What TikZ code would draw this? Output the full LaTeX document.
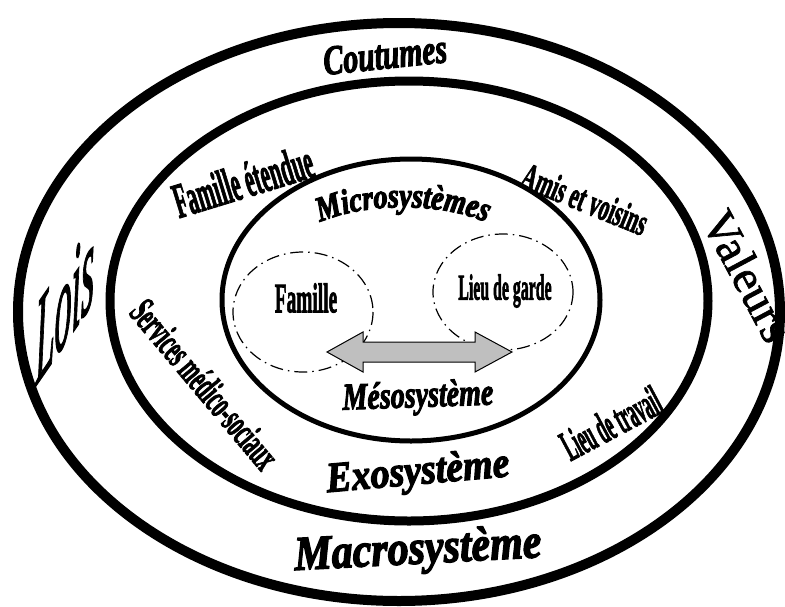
\documentclass[tikz,border=0pt]{standalone}
\usepackage{fontspec}
\setmainfont{Liberation Serif}
\newfontfamily\hbi{Liberation Serif Bold Italic}[FakeBold=3]
\newfontfamily\hbinarrow{Liberation Serif Bold Italic}[FakeBold=3, FakeStretch=0.8]
\newfontfamily\hb{Liberation Serif Bold}[FakeBold=2.5]
\newfontfamily\hi{Liberation Serif Italic}[FakeBold=2]
\newfontfamily\hr{Liberation Serif}[FakeBold=1.5]
\usetikzlibrary{decorations.text}
\newcommand{\fs}[1]{\fontsize{#1}{#1}\selectfont}
\newcommand{\wa}[3]{\scalebox{#1}[#2]{#3}}
\begin{document}
\begin{tikzpicture}[x=1pt,y=-1pt,
  sys/.style={font=\hbi, inner sep=0pt},
  lab/.style={font=\hb, inner sep=0pt},
  plain/.style={font=\hr, inner sep=0pt},
  dashcirc/.style={draw, line width=1.2pt, dash pattern=on 13pt off 5pt on 1.5pt off 5pt}]
\useasboundingbox (0,0) rectangle (785,606);
\clip (0,0) rectangle (785,606);
\coordinate (cMacro) at (399,312);
\coordinate (cExo) at (409,301);
\coordinate (cMicro) at (411,300);
\coordinate (cFam) at (303,312);
\coordinate (cGarde) at (503,292);
% rings
\draw[line width=10pt] (cMacro) ellipse [x radius=381, y radius=289];
\draw[line width=9pt] (cExo) ellipse [x radius=299, y radius=220];
\draw[line width=5pt] (cMicro) ellipse [x radius=189, y radius=141];
% dash-dot circles
\draw[dashcirc] (cFam) ellipse [x radius=70, y radius=60];
\draw[dashcirc] (cGarde) ellipse [x radius=70, y radius=58];
% double arrow
\draw[fill=gray!50, line width=1pt] (327,352) -- (363,332) -- (363,342) -- (475,342) -- (475,332) -- (512,352) -- (475,372) -- (475,362) -- (363,362) -- (363,372) -- cycle;
% macro labels
\node[sys, rotate=6] (cout) at (385,55) {\fs{32}\wa{0.93}{1.3}{Coutumes}};
\node[sys, rotate=3] (macro) at (418,552) {\fs{42}\wa{1}{1.15}{Macrosystème}};
\node[plain, font=\hi, yslant=1.45] (lois) at (65,304) {\fs{64}\wa{0.53}{1.9}{Lois}};
\node[plain, rotate=-62] (val) at (748,276) {\fs{47}Valeurs};
% exo labels
\node[sys, rotate=5] (exo) at (418,474) {\fs{38}\wa{1}{1.12}{Exosystème}};
\node[lab, rotate=17] (famet) at (243,181) {\fs{45}\wa{0.47}{1.1}{Famille étendue}};
\node[lab, rotate=-22] (amis) at (585,199) {\fs{33}\wa{0.63}{1.15}{Amis et voisins}};
\node[lab, rotate=-50] (serv) at (205,384) {\fs{33}\wa{0.61}{1.2}{Services médico-sociaux}};
\node[lab, rotate=28] (trav) at (611,423) {\fs{38}\wa{0.45}{1.15}{Lieu de travail}};
% micro labels
\path[decorate, decoration={text along path, text={|\fs{35}\hbinarrow|Microsystèmes}, text align=center}] (312,226) .. controls (360,201) and (446,201) .. (494,226);
\node[sys, rotate=2] (meso) at (418,398) {\fs{28}\wa{1}{1.35}{Mésosystème}};
\node[lab] (fam) at (306,298) {\fs{38}\wa{0.51}{1.1}{Famille}};
\node[lab] (garde) at (505,291) {\fs{33}\wa{0.48}{1.1}{Lieu de garde}};
\end{tikzpicture}
\end{document}
